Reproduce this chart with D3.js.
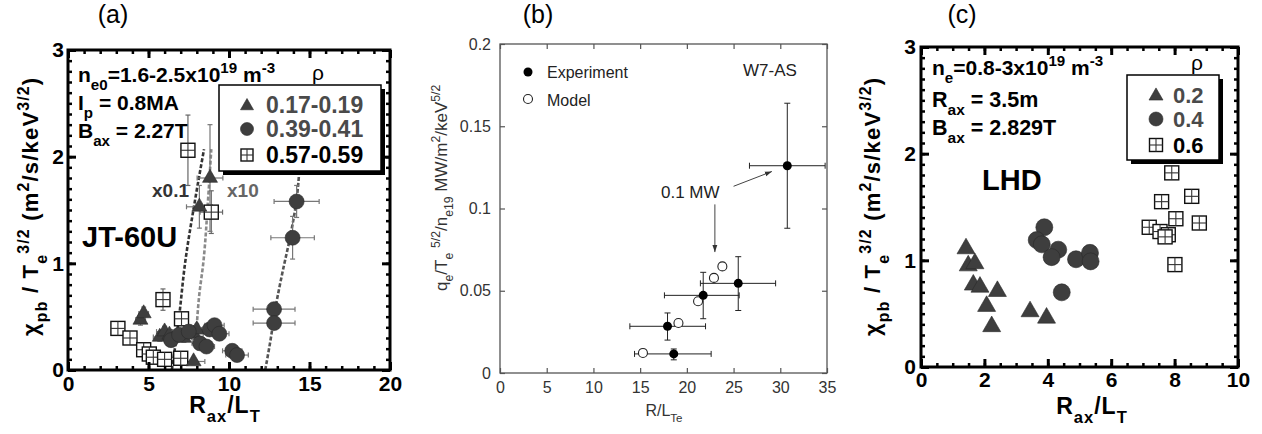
<!DOCTYPE html>
<html>
<head>
<meta charset="utf-8">
<script src="https://cdn.jsdelivr.net/npm/d3@7"></script>
<style>
  body { margin: 0; background: #fff; }
  svg { display: block; }
</style>
</head>
<body>
<script>
const W = 1262, H = 434;
const FONT = "'Liberation Sans', Arial, Helvetica, sans-serif";

// ---- panel (a) JT-60U : [x, y, xerr, yerr]
const jtTri = [[4.5,0.47,0.3,0.05],[4.7,0.53,0.3,0.06],[5.7,0.31,0.4,0.04],[6.0,0.36,0.5,0.05],
  [6.3,0.33,0.5,0.05],[7.2,0.30,0.5,0.04],[7.8,0.34,0.6,0.05],[8.0,0.38,0.6,0.05],
  [7.8,0.08,0.7,0.03],[8.16,1.53,0.8,0.2],[8.82,1.80,0.8,0.5]];
const jtCirc = [[6.4,0.28,0.4,0.04],[6.9,0.33,0.4,0.04],[7.5,0.36,0.5,0.04],[8.2,0.25,0.5,0.04],
  [8.6,0.22,0.5,0.04],[8.8,0.38,0.5,0.05],[9.1,0.42,0.6,0.05],[9.4,0.34,0.6,0.05],
  [10.2,0.18,0.6,0.04],[10.5,0.14,0.7,0.04],[12.8,0.57,1.3,0.05],[12.8,0.44,1.3,0.05],
  [13.95,1.24,1.35,0.2],[14.2,1.58,1.4,0.15]];
const jtSq = [[3.1,0.39,0.2,0.03],[3.85,0.30,0.2,0.03],[4.7,0.19,0.3,0.03],[5.05,0.15,0.3,0.03],
  [5.3,0.12,0.3,0.03],[6.0,0.10,0.3,0.03],[7.0,0.11,0.4,0.03],[7.05,0.48,0.4,0.05],
  [5.9,0.66,0.4,0.1],[7.45,2.06,0.4,0.33],[8.9,1.48,0.7,0.2]];
const jtFitTri = [[6.45,0],[6.9,0.5],[7.27,1.0],[7.9,1.6],[8.45,2.07]];
const jtFitTri10 = [[7.95,0.3],[8.15,0.7],[8.4,1.0],[8.7,1.6],[8.9,2.07]];
const jtFitCirc = [[12.25,0],[12.6,0.3],[12.85,0.55],[13.3,0.9],[13.8,1.25],[14.2,1.6],[14.4,1.95]];
const jtLegend = ["0.17-0.19", "0.39-0.41", "0.57-0.59"];

// ---- panel (b) W7-AS : [x, y, xlo, xhi, ylo, yhi]
const w7Exp = [[30.75,0.126,26.7,34.8,0.088,0.164],[25.5,0.0545,21.45,29.5,0.038,0.0707],
  [21.75,0.0472,17.6,25.6,0.033,0.0612],[17.93,0.0284,13.9,22.0,0.020,0.0365],
  [18.6,0.0116,14.4,22.6,0.008,0.0146]];
const w7Model = [[15.3,0.0122],[19.1,0.0304],[21.2,0.0436],[22.9,0.0578],[23.8,0.0648]];
const w7Ticks = { x: [0,5,10,15,20,25,30,35], y: [0,0.05,0.1,0.15,0.2] };

// ---- panel (c) LHD : [x, y]
const lhdTri = [[1.42,1.11],[1.49,0.95],[1.70,0.97],[1.65,0.77],[1.86,0.75],[2.41,0.71],
  [2.07,0.57],[2.23,0.38],[3.44,0.52],[3.96,0.46]];
const lhdCirc = [[3.89,1.31],[3.65,1.19],[3.81,1.15],[4.33,1.10],[4.12,1.03],[4.89,1.01],
  [5.33,1.07],[5.35,0.99],[4.44,0.70]];
const lhdSq = [[7.91,1.82],[7.59,1.55],[8.54,1.60],[7.2,1.31],[7.54,1.27],[7.8,1.24],
  [8.04,1.39],[8.78,1.35],[8.01,0.96],[7.7,1.22]];
const lhdLegend = ["0.2", "0.4", "0.6"];

const svg = d3.select("body").append("svg").attr("width", W).attr("height", H);
svg.append("rect").attr("width", W).attr("height", H).attr("fill", "#fff");

const MARK = "#3e3e3e";

// text with sub / superscripts: segs = ["txt", ["sub","sub"], ["sup","sup"]]
function rich(g, x, y, segs, o) {
  const t = g.append("text").attr("x", x).attr("y", y)
    .attr("font-size", o.size).attr("font-weight", o.weight || "bold")
    .attr("font-family", FONT).attr("fill", o.fill || "#000");
  if (o.anchor) t.attr("text-anchor", o.anchor);
  if (o.spacing) t.attr("letter-spacing", o.spacing);
  if (o.rotate) t.attr("transform", `rotate(-90,${x},${y})`);
  let cur = 0;
  segs.forEach(s => {
    const [txt, kind] = typeof s === "string" ? [s, null] : s;
    const off = kind === "sub" ? o.size * (o.subOff || 0.4) : kind === "sup" ? -o.size * 0.42 : 0;
    t.append("tspan").attr("dy", off - cur)
      .attr("font-size", kind ? o.size * 0.72 : o.size).text(txt);
    cur = off;
  });
  return t;
}

function triPath(s) {
  const h = s * Math.sqrt(3) / 2;
  return `M0,${-2 * h / 3}L${s / 2},${h / 3}L${-s / 2},${h / 3}Z`;
}
function drawTri(g, x, y, s) {
  g.append("path").attr("d", triPath(s)).attr("transform", `translate(${x},${y})`)
    .attr("fill", MARK).attr("stroke", "#2a2a2a").attr("stroke-width", 0.6);
}
function drawCirc(g, x, y, r) {
  g.append("circle").attr("cx", x).attr("cy", y).attr("r", r)
    .attr("fill", MARK).attr("stroke", "#2a2a2a").attr("stroke-width", 0.6);
}
function drawSq(g, x, y, s) {
  const q = g.append("g").attr("transform", `translate(${x},${y})`);
  q.append("rect").attr("x", -s / 2).attr("y", -s / 2).attr("width", s).attr("height", s)
    .attr("fill", "#fff").attr("stroke", "#111").attr("stroke-width", 1.4);
  q.append("line").attr("x1", 0).attr("x2", 0).attr("y1", -s / 2).attr("y2", s / 2)
    .attr("stroke", "#333").attr("stroke-width", 1.1);
  q.append("line").attr("y1", 0).attr("y2", 0).attr("x1", -s / 2).attr("x2", s / 2)
    .attr("stroke", "#333").attr("stroke-width", 1.1);
}

// bold framed axes with minor ticks on all four sides (panels a and c)
function boldAxes(g, x, y, xMaj, xMin, yMaj, yMin, pads) {
  const [x0, x1] = x.range(), [y0, y1] = y.range();
  const style = (sel, w) => {
    sel.select(".domain").remove();
    sel.selectAll(".tick line").attr("stroke", "#000").attr("stroke-width", w);
    sel.selectAll("text").attr("font-family", FONT).attr("font-weight", "bold")
      .attr("font-size", 21).attr("fill", "#000");
  };
  const fmt = d3.format("d");
  g.append("g").attr("transform", `translate(0,${y0})`)
    .call(d3.axisBottom(x).tickValues(xMin).tickSize(-4).tickFormat("")).call(s => style(s, 2.5));
  g.append("g").attr("transform", `translate(0,${y0})`)
    .call(d3.axisBottom(x).tickValues(xMaj).tickSize(-8).tickPadding(pads[0]).tickFormat(fmt)).call(s => style(s, 3));
  g.append("g").attr("transform", `translate(0,${y1})`)
    .call(d3.axisTop(x).tickValues(xMin).tickSize(-4).tickFormat("")).call(s => style(s, 2.5));
  g.append("g").attr("transform", `translate(0,${y1})`)
    .call(d3.axisTop(x).tickValues(xMaj).tickSize(-8).tickFormat("")).call(s => style(s, 3));
  g.append("g").attr("transform", `translate(${x0},0)`)
    .call(d3.axisLeft(y).tickValues(yMin).tickSize(-4).tickFormat("")).call(s => style(s, 2.5));
  g.append("g").attr("transform", `translate(${x0},0)`)
    .call(d3.axisLeft(y).tickValues(yMaj).tickSize(-8).tickPadding(pads[1]).tickFormat(fmt)).call(s => style(s, 3));
  g.append("g").attr("transform", `translate(${x1},0)`)
    .call(d3.axisRight(y).tickValues(yMin).tickSize(-4).tickFormat("")).call(s => style(s, 2.5));
  g.append("g").attr("transform", `translate(${x1},0)`)
    .call(d3.axisRight(y).tickValues(yMaj).tickSize(-8).tickFormat("")).call(s => style(s, 3));
  g.append("rect").attr("x", x0).attr("y", y1).attr("width", x1 - x0).attr("height", y0 - y1)
    .attr("fill", "none").attr("stroke", "#000").attr("stroke-width", 3);
}

function errBars(g, x, y, pts, color) {
  const cap = 2.5;
  pts.forEach(([px, py, xe, ye]) => {
    const e = g.append("g").attr("stroke", color).attr("stroke-width", 1.2).attr("fill", "none");
    const cx = x(px), cy = y(py);
    e.append("line").attr("x1", x(px - xe)).attr("x2", x(px + xe)).attr("y1", cy).attr("y2", cy);
    e.append("line").attr("x1", cx).attr("x2", cx).attr("y1", y(py - ye)).attr("y2", y(py + ye));
    [x(px - xe), x(px + xe)].forEach(v => e.append("line").attr("x1", v).attr("x2", v).attr("y1", cy - cap).attr("y2", cy + cap));
    [y(py - ye), y(py + ye)].forEach(v => e.append("line").attr("y1", v).attr("y2", v).attr("x1", cx - cap).attr("x2", cx + cap));
  });
}

function legendBox(g, bx, by, bw, bh, labels, sizes, colors) {
  g.append("rect").attr("x", bx + 4).attr("y", by + 4).attr("width", bw).attr("height", bh).attr("fill", "#000");
  g.append("rect").attr("x", bx).attr("y", by).attr("width", bw).attr("height", bh)
    .attr("fill", "#fff").attr("stroke", "#000").attr("stroke-width", 1.5);
  const rows = [by + 20, by + 44, by + 70];
  const mx = bx + sizes.mx;
  drawTri(g, mx, rows[0] + 1, sizes.tri);
  drawCirc(g, mx, rows[1], sizes.r);
  drawSq(g, mx, rows[2], sizes.sq);
  labels.forEach((t, i) => g.append("text").attr("x", bx + sizes.tx).attr("y", rows[i] + 8)
    .attr("font-family", FONT).attr("font-weight", "bold").attr("font-size", sizes.font)
    .attr("fill", colors[i]).text(t));
}

const yLabel = ["χ", ["pb", "sub"], " / T", ["e", "sub"], ["3/2", "sup"], "  (m", ["2", "sup"], "/s/keV", ["3/2", "sup"], ")"];
const xLabel = ["R", ["ax", "sub"], "/L", ["T", "sub"]];

// ================= panel (a)
{
  const g = svg.append("g");
  const x = d3.scaleLinear().domain([0, 20]).range([68, 390]);
  const y = d3.scaleLinear().domain([0, 3]).range([370, 50]);
  const line = d3.line().x(d => x(d[0])).y(d => y(d[1])).curve(d3.curveMonotoneY);

  g.append("path").attr("d", line(jtFitTri)).attr("fill", "none").attr("stroke", "#333")
    .attr("stroke-width", 2.6).attr("stroke-dasharray", "4,2");
  g.append("path").attr("d", line(jtFitTri10)).attr("fill", "none").attr("stroke", "#8a8a8a")
    .attr("stroke-width", 2.6).attr("stroke-dasharray", "4,2");
  g.append("path").attr("d", line(jtFitCirc)).attr("fill", "none").attr("stroke", "#555")
    .attr("stroke-width", 2.6).attr("stroke-dasharray", "4,2");

  errBars(g, x, y, jtSq, "#666");
  errBars(g, x, y, jtTri, "#777");
  errBars(g, x, y, jtCirc, "#777");
  jtSq.forEach(d => drawSq(g, x(d[0]), y(d[1]), 14));
  jtTri.forEach(d => drawTri(g, x(d[0]), y(d[1]), 15));
  jtCirc.forEach(d => drawCirc(g, x(d[0]), y(d[1]), 7.5));

  boldAxes(g, x, y, d3.range(0, 21, 5), d3.range(0, 21, 1), d3.range(0, 4, 1),
    d3.range(0, 3.01, 0.1).map(v => +v.toFixed(1)), [6, 4]);

  rich(g, 78, 82, ["n", ["e0", "sub"], "=1.6-2.5x10", ["19", "sup"], " m", ["-3", "sup"]], { size: 21, subOff: 0.36 });
  rich(g, 78, 110, ["I", ["p", "sub"], " = 0.8MA"], { size: 21, subOff: 0.36 });
  rich(g, 78, 138, ["B", ["ax", "sub"], " = 2.27T"], { size: 21, subOff: 0.36 });
  g.append("text").attr("x", 318).attr("y", 80).attr("text-anchor", "middle")
    .attr("font-family", FONT).attr("font-size", 21).text("ρ");
  g.append("text").attr("x", 82).attr("y", 247).attr("font-family", FONT).attr("font-weight", "bold")
    .attr("font-size", 29).text("JT-60U");
  g.append("text").attr("x", 152).attr("y", 197).attr("font-family", FONT).attr("font-weight", "bold")
    .attr("font-size", 19).attr("fill", "#333").text("x0.1");
  g.append("text").attr("x", 227).attr("y", 197).attr("font-family", FONT).attr("font-weight", "bold")
    .attr("font-size", 19).attr("fill", "#666").text("x10");

  legendBox(g, 219, 85, 162, 86, jtLegend, { mx: 28, tri: 13, r: 6.5, sq: 12, tx: 47, font: 23 },
    ["#4a4a4a", "#4a4a4a", "#000"]);

  rich(g, 225, 413, xLabel, { size: 23, anchor: "middle", spacing: 1 });
  rich(g, 38, 336, yLabel, { size: 22, rotate: true, spacing: 1.2 });
  g.append("text").attr("x", 113).attr("y", 23).attr("text-anchor", "middle")
    .attr("font-family", FONT).attr("font-size", 25).text("(a)");
}

// ================= panel (b)
{
  const g = svg.append("g");
  const x = d3.scaleLinear().domain([0, 35]).range([500, 827]);
  const y = d3.scaleLinear().domain([0, 0.2]).range([373, 44]);
  const GR = "#555";
  const style = sel => {
    sel.select(".domain").remove();
    sel.selectAll(".tick line").attr("stroke", GR).attr("stroke-width", 1.2);
    sel.selectAll("text").attr("font-family", FONT).attr("font-size", 16).attr("fill", "#333");
  };
  const yfmt = d => d === 0 ? "0" : d3.format("~g")(d);
  g.append("g").attr("transform", "translate(0,373)")
    .call(d3.axisBottom(x).tickValues(w7Ticks.x).tickSize(-5).tickPadding(9)).call(style);
  g.append("g").attr("transform", "translate(0,44)")
    .call(d3.axisTop(x).tickValues(w7Ticks.x).tickSize(-5).tickFormat("")).call(style);
  g.append("g").attr("transform", "translate(500,0)")
    .call(d3.axisLeft(y).tickValues(w7Ticks.y).tickSize(-5).tickPadding(9).tickFormat(yfmt)).call(style);
  g.append("g").attr("transform", "translate(827,0)")
    .call(d3.axisRight(y).tickValues(w7Ticks.y).tickSize(-5).tickFormat("")).call(style);
  g.append("rect").attr("x", 500).attr("y", 44).attr("width", 327).attr("height", 329)
    .attr("fill", "none").attr("stroke", GR).attr("stroke-width", 1.3);

  w7Exp.forEach(([px, py, xl, xh, yl, yh]) => {
    const e = g.append("g").attr("stroke", "#222").attr("stroke-width", 1);
    e.append("line").attr("x1", x(xl)).attr("x2", x(xh)).attr("y1", y(py)).attr("y2", y(py));
    e.append("line").attr("x1", x(px)).attr("x2", x(px)).attr("y1", y(yl)).attr("y2", y(yh));
    [xl, xh].forEach(v => e.append("line").attr("x1", x(v)).attr("x2", x(v)).attr("y1", y(py) - 3).attr("y2", y(py) + 3));
    [yl, yh].forEach(v => e.append("line").attr("y1", y(v)).attr("y2", y(v)).attr("x1", x(px) - 3).attr("x2", x(px) + 3));
  });
  w7Model.forEach(([px, py]) => g.append("circle").attr("cx", x(px)).attr("cy", y(py)).attr("r", 4.5)
    .attr("fill", "#fff").attr("stroke", "#222").attr("stroke-width", 1.1));
  w7Exp.forEach(([px, py]) => g.append("circle").attr("cx", x(px)).attr("cy", y(py)).attr("r", 4.5).attr("fill", "#000"));

  g.append("circle").attr("cx", 528).attr("cy", 72).attr("r", 4.5).attr("fill", "#000");
  g.append("circle").attr("cx", 528).attr("cy", 99).attr("r", 4.5).attr("fill", "#fff").attr("stroke", "#222").attr("stroke-width", 1.1);
  const txt = (tx, ty, s, fs) => g.append("text").attr("x", tx).attr("y", ty).attr("font-family", FONT)
    .attr("font-size", fs || 16).attr("fill", "#222").text(s);
  txt(547, 78, "Experiment");
  txt(547, 106, "Model");
  txt(743, 76, "W7-AS", 17);
  txt(661, 198, "0.1 MW", 17);

  const defs = svg.append("defs");
  defs.append("marker").attr("id", "arr").attr("viewBox", "0 0 10 10").attr("refX", 10).attr("refY", 5)
    .attr("markerWidth", 7).attr("markerHeight", 7).attr("orient", "auto")
    .append("path").attr("d", "M0,1.5L10,5L0,8.5Z").attr("fill", "#333");
  g.append("line").attr("x1", x(25.0)).attr("y1", y(0.1135)).attr("x2", x(29.1)).attr("y2", y(0.1225))
    .attr("stroke", "#444").attr("stroke-width", 1).attr("marker-end", "url(#arr)");
  g.append("line").attr("x1", x(23.0)).attr("y1", y(0.1025)).attr("x2", x(23.0)).attr("y2", y(0.0735))
    .attr("stroke", "#444").attr("stroke-width", 1).attr("marker-end", "url(#arr)");

  rich(g, 664, 416, ["R/L", ["Te", "sub"]], { size: 16, weight: "normal", anchor: "middle", fill: "#333", subOff: 0.35 });
  rich(g, 447, 291, ["q", ["e", "sub"], "/T", ["e", "sub"], " ", ["5/2", "sup"], "/n", ["e19", "sub"], "  MW/m", ["2", "sup"], "/keV", ["5/2", "sup"]],
    { size: 17, weight: "normal", rotate: true, fill: "#333", subOff: 0.35 });
  g.append("text").attr("x", 538).attr("y", 23).attr("text-anchor", "middle")
    .attr("font-family", FONT).attr("font-size", 25).text("(b)");
}

// ================= panel (c)
{
  const g = svg.append("g");
  const x = d3.scaleLinear().domain([0, 10]).range([921, 1238]);
  const y = d3.scaleLinear().domain([0, 3]).range([367, 47]);

  lhdSq.forEach(d => drawSq(g, x(d[0]), y(d[1]), 14));
  lhdTri.forEach(d => drawTri(g, x(d[0]), y(d[1]), 18));
  lhdCirc.forEach(d => drawCirc(g, x(d[0]), y(d[1]), 8.5));

  boldAxes(g, x, y, d3.range(0, 11, 2), d3.range(0, 10.01, 0.5), d3.range(0, 4, 1),
    d3.range(0, 3.01, 0.1).map(v => +v.toFixed(1)), [5, 5]);

  rich(g, 932, 75, ["n", ["e", "sub"], "=0.8-3x10", ["19", "sup"], " m", ["-3", "sup"]], { size: 21, subOff: 0.36 });
  rich(g, 932, 107, ["R", ["ax", "sub"], " = 3.5m"], { size: 21.5, subOff: 0.36 });
  rich(g, 932, 135, ["B", ["ax", "sub"], " = 2.829T"], { size: 21.5, subOff: 0.36 });
  g.append("text").attr("x", 1197).attr("y", 70).attr("text-anchor", "middle")
    .attr("font-family", FONT).attr("font-size", 21).text("ρ");
  g.append("text").attr("x", 982).attr("y", 190).attr("font-family", FONT).attr("font-weight", "bold")
    .attr("font-size", 29).text("LHD");

  legendBox(g, 1127, 75, 92, 85, lhdLegend, { mx: 29, tri: 14, r: 7, sq: 13, tx: 46, font: 22 },
    ["#4a4a4a", "#4a4a4a", "#000"]);

  rich(g, 1092, 414, xLabel, { size: 23, anchor: "middle", spacing: 1 });
  rich(g, 880, 336, yLabel, { size: 22, rotate: true, spacing: 1.2 });
  g.append("text").attr("x", 962).attr("y", 23).attr("text-anchor", "middle")
    .attr("font-family", FONT).attr("font-size", 25).text("(c)");
}
</script>
</body>
</html>
